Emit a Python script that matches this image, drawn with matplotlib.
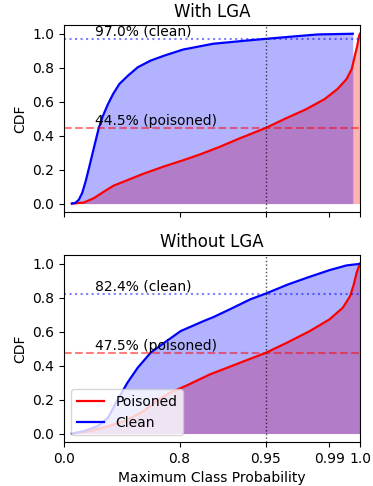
import numpy as np
import matplotlib
matplotlib.use('Agg')
import matplotlib.pyplot as plt

# ── Data ─────────────────────────────────────────────────────────────────────
# With LGA
lga_clean_p   = [0.10, 0.14, 0.18, 0.217, 0.253, 0.287, 0.318, 0.348, 0.377, 0.408,
                 0.45, 0.487, 0.53, 0.583, 0.637, 0.697, 0.75, 0.81, 0.879, 0.93,
                 0.95, 0.974, 0.985, 0.998]
lga_clean_cdf = [0.00, 0.004, 0.022, 0.062, 0.13, 0.21, 0.289, 0.368, 0.447, 0.512,
                 0.585, 0.644, 0.704, 0.753, 0.803, 0.842, 0.871, 0.907, 0.941, 0.96,
                 0.970, 0.986, 0.996, 1.00]
lga_pois_p    = [0.10, 0.235, 0.333, 0.42, 0.49, 0.56, 0.665, 0.75, 0.81, 0.852,
                 0.891, 0.921, 0.95, 0.966, 0.979, 0.988, 0.993, 0.9961, 0.9977,
                 0.9986, 0.9993, 0.9998, 1.00]
lga_pois_cdf  = [0.00, 0.006, 0.032, 0.071, 0.105, 0.13, 0.176, 0.219, 0.255, 0.289,
                 0.334, 0.384, 0.445, 0.50, 0.555, 0.615, 0.674, 0.733, 0.793,
                 0.871, 0.931, 0.99, 1.00]

# Without LGA
base_clean_p   = [0.10, 0.235, 0.365, 0.45, 0.52, 0.58, 0.636, 0.697, 0.75, 0.803,
                  0.86, 0.88, 0.907, 0.934, 0.95, 0.968, 0.981, 0.990, 0.9961,
                  0.9996, 1.00]
base_clean_cdf = [0.00, 0.014, 0.043, 0.092, 0.20, 0.299, 0.387, 0.476, 0.534, 0.603,
                  0.662, 0.686, 0.731, 0.79, 0.824, 0.878, 0.923, 0.962, 0.99,
                  0.998, 1.00]
base_pois_p    = [0.10, 0.30, 0.45, 0.56, 0.665, 0.72, 0.77, 0.82, 0.873, 0.907,
                  0.934, 0.95, 0.968, 0.981, 0.990, 0.9949, 0.9972, 0.9983,
                  0.9991, 1.00]
base_pois_cdf  = [0.00, 0.014, 0.043, 0.072, 0.131, 0.19, 0.24, 0.283, 0.348, 0.393,
                  0.44, 0.475, 0.538, 0.603, 0.672, 0.741, 0.809, 0.878,
                  0.947, 1.00]

threshold = 0.95
panels = [
    ('With LGA', lga_clean_p, lga_clean_cdf, lga_pois_p, lga_pois_cdf, 0.970, 0.445),
    ('Without LGA', base_clean_p, base_clean_cdf, base_pois_p, base_pois_cdf, 0.824, 0.475),
]
xticks = [0.0, 0.8, 0.95, 0.99, 1.0]
xticklabels = ['0.0', '0.8', '0.95', '0.99', '1.0']


# stretch the high-confidence end of the axis
def fwd(p):
    return -np.log(1.02 - np.clip(p, -1, 1.0199))


def inv(y):
    return 1.02 - np.exp(-y)


fig, axes = plt.subplots(2, 1, figsize=(3.73, 4.86), dpi=100, sharex=True)
plt.subplots_adjust(left=0.172, right=0.965, top=0.948, bottom=0.0905, hspace=0.231)

for ax, (title, cp, cc, pp, pc, clean_at, pois_at) in zip(axes, panels):
    ax.set_xscale('function', functions=(fwd, inv))
    ax.fill_between(pp, pc, color='red', alpha=0.3, lw=0)
    ax.plot(pp, pc, color='red', lw=1.6, label='Poisoned')
    ax.fill_between(cp, cc, color='blue', alpha=0.3, lw=0)
    ax.plot(cp, cc, color='blue', lw=1.6, label='Clean')

    ax.axvline(threshold, color='black', ls=':', lw=1, alpha=0.7)
    ax.axhline(clean_at, color='blue', ls=':', lw=1.5, alpha=0.5)
    ax.axhline(pois_at, color='red', ls='--', lw=1.5, alpha=0.5)
    ax.text(0.345, clean_at, f'{clean_at*100:.1f}% (clean)', va='bottom', fontsize=10)
    ax.text(0.345, pois_at, f'{pois_at*100:.1f}% (poisoned)', va='bottom', fontsize=10)

    ax.set_xlim(0.0, 1.0)
    ax.set_ylabel('CDF', fontsize=10)
    ax.set_title(title, fontsize=12)

axes[1].set_xticks(xticks)
axes[1].set_xticklabels(xticklabels)
axes[1].set_xlabel('Maximum Class Probability', fontsize=10)
axes[1].legend(loc='lower left', fontsize=10)

plt.savefig('out.png', dpi=100)
plt.close()
